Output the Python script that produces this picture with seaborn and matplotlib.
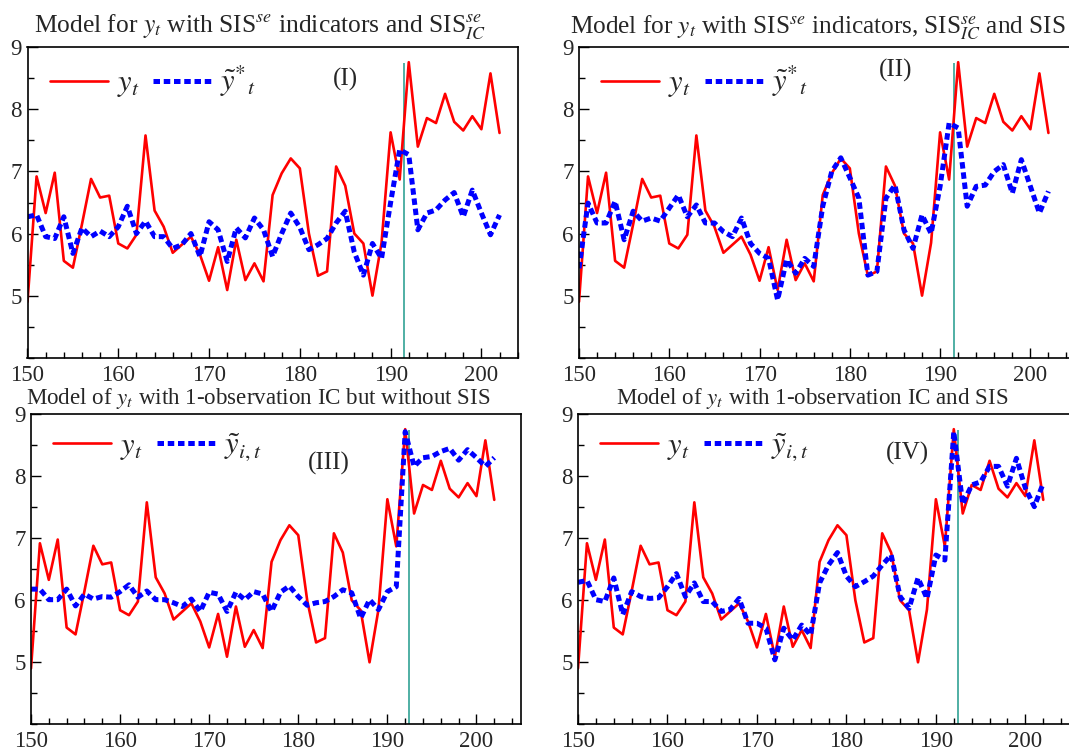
import numpy as np
import pandas as pd
import matplotlib
matplotlib.use("Agg")
import matplotlib.pyplot as plt
from matplotlib.ticker import MultipleLocator
import seaborn as sns

# ---------------- data ----------------
years = list(range(150, 203))

y_t = [4.90, 6.92, 6.33, 6.98, 5.56, 5.45, 6.15, 6.88, 6.58, 6.61,
       5.84, 5.76, 5.98, 7.58, 6.37, 6.11, 5.69, 5.82, 5.95, 5.66,
       5.24, 5.78, 5.09, 5.90, 5.25, 5.52, 5.23, 6.62, 6.97, 7.21,
       7.05, 6.00, 5.32, 5.39, 7.08, 6.77, 6.00, 5.84, 5.00, 5.85,
       7.63, 6.87, 8.76, 7.40, 7.86, 7.78, 8.25, 7.80, 7.66, 7.89,
       7.68, 8.58, 7.62]

fit_I = [6.27, 6.30, 5.95, 5.92, 6.27, 5.68, 6.09, 5.95, 6.04, 5.95,
         6.11, 6.44, 6.00, 6.20, 5.95, 5.95, 5.76, 5.82, 6.00, 5.63,
         6.19, 6.06, 5.55, 6.09, 5.93, 6.25, 6.06, 5.63, 6.00, 6.33,
         6.10, 5.74, 5.82, 5.92, 6.17, 6.36, 5.70, 5.33, 5.84, 5.60,
         6.50, 7.35, 7.27, 6.06, 6.33, 6.38, 6.54, 6.66, 6.27, 6.70,
         6.33, 5.98, 6.30]

fit_II = [5.44, 6.49, 6.17, 6.17, 6.52, 5.90, 6.36, 6.20, 6.25, 6.20,
          6.41, 6.62, 6.27, 6.46, 6.17, 6.17, 6.03, 5.95, 6.25, 5.84,
          5.68, 5.60, 4.93, 5.58, 5.36, 5.60, 5.47, 6.44, 7.00, 7.22,
          6.90, 6.57, 5.33, 5.39, 6.57, 6.78, 6.06, 5.76, 6.30, 6.00,
          6.76, 7.78, 7.70, 6.44, 6.76, 6.78, 7.00, 7.11, 6.65, 7.19,
          6.76, 6.33, 6.68]

fit_III = [6.18, 6.18, 6.01, 6.01, 6.18, 5.91, 6.10, 6.02, 6.06, 6.05,
           6.14, 6.25, 6.05, 6.15, 6.01, 6.01, 5.96, 5.90, 6.02, 5.82,
           6.13, 6.10, 5.82, 6.13, 6.01, 6.14, 6.10, 5.82, 6.13, 6.23,
           6.06, 5.92, 5.96, 5.98, 6.06, 6.17, 6.12, 5.71, 6.01, 5.85,
           6.14, 6.22, 8.72, 8.16, 8.30, 8.32, 8.40, 8.45, 8.26, 8.43,
           8.30, 8.16, 8.30]

fit_IV = [6.29, 6.32, 6.01, 5.98, 6.36, 5.77, 6.14, 6.06, 6.03, 6.04,
          6.22, 6.43, 6.06, 6.28, 5.98, 5.98, 5.82, 5.85, 6.03, 5.63,
          5.63, 5.55, 5.04, 5.55, 5.36, 5.60, 5.44, 6.28, 6.57, 6.77,
          6.39, 6.22, 6.30, 6.39, 6.57, 6.73, 6.06, 5.87, 6.36, 6.03,
          6.73, 6.65, 8.72, 7.55, 7.86, 7.91, 8.16, 8.16, 7.84, 8.29,
          7.81, 7.51, 7.89]

titles = [
    r"Model for $y_t$ with SIS$^{se}$ indicators and SIS$^{se}_{IC}$",
    r"Model for $y_t$ with SIS$^{se}$ indicators, SIS$^{se}_{IC}$ and SIS",
    r"Model of $y_t$ with 1-observation IC but without SIS",
    r"Model of $y_t$ with 1-observation IC and SIS",
]
panel_tags = ["(I)", "(II)", "(III)", "(IV)"]
fit_labels = [r"$\tilde{y}^{*}{}_{t}$", r"$\tilde{y}^{*}{}_{t}$",
              r"$\tilde{y}_{i,t}$", r"$\tilde{y}_{i,t}$"]
break_points = [191.5, 191.5, 192.45, 192.45]
fits = [fit_I, fit_II, fit_III, fit_IV]

# ---------------- style ----------------
sns.set_style("white")
plt.rcParams["font.family"] = ["Liberation Serif", "DejaVu Serif"]
plt.rcParams["mathtext.fontset"] = "stix"

W, H = 1069, 752
fig = plt.figure(figsize=(W / 100, H / 100), dpi=100)

# axes boxes in pixels: left, right, top, bottom ; xlim right
boxes = [
    (27.5, 517.7, 47.3, 357.7, 204.0),
    (579.0, 1071.0, 47.3, 357.7, 204.5),
    (31.0, 521.0, 414.3, 724.3, 205.0),
    (578.0, 1071.0, 414.3, 724.3, 205.1),
]
title_pos = [(0.474, 1.046, 18.4), (0.486, 1.046, 18.2),
             (0.464, 1.034, 16.6), (0.476, 1.034, 16.6)]
tag_pos = [(0.648, 0.895), (0.643, 0.927), (0.608, 0.843), (0.669, 0.875)]

for i in range(4):
    l, r, t, b, xr = boxes[i]
    ax = fig.add_axes([l / W, (H - b) / H, (r - l) / W, (b - t) / H])
    df = pd.DataFrame({"t": years, "y": y_t, "fit": fits[i]})
    sns.lineplot(data=df, x="t", y="y", ax=ax, color="#ff0000", lw=1.9,
                 label=r"$y_{t}$")
    sns.lineplot(data=df, x="t", y="fit", ax=ax, color="#0000ff", lw=3.6,
                 linestyle=(0, (1.3, 0.75)), label=fit_labels[i])
    ax.vlines(break_points[i], 4, 8.75, color="#1f9a8c", lw=1.1, zorder=1)

    ax.set_xlim(150, xr)
    ax.set_ylim(4, 9)
    ax.xaxis.set_major_locator(MultipleLocator(10))
    ax.xaxis.set_minor_locator(MultipleLocator(2))
    ax.set_yticks([5, 6, 7, 8, 9])
    ax.yaxis.set_minor_locator(MultipleLocator(0.5))
    ax.tick_params(axis="both", which="major", direction="in", length=7,
                   width=1.0, labelsize=16.5, color="black", pad=5,
                   bottom=True, left=True, top=False, right=False)
    ax.tick_params(axis="both", which="minor", direction="in", length=4,
                   width=1.0, color="black",
                   bottom=True, left=True, top=False, right=False)
    ax.tick_params(axis="y", which="major", pad=4)
    ax.set_xlabel("")
    ax.set_ylabel("")
    for s in ax.spines.values():
        s.set_color("black")
        s.set_linewidth(1.2)

    leg = ax.legend(loc="upper left", bbox_to_anchor=(0.02, 0.985), ncol=2,
                    frameon=False, fontsize=22, handlelength=1.9,
                    handletextpad=0.3, columnspacing=0.45, borderaxespad=0.0)

    tx, ty, fs = title_pos[i]
    ax.text(tx, ty, titles[i], transform=ax.transAxes, ha="center",
            va="baseline", fontsize=fs)
    px, py = tag_pos[i]
    ax.text(px, py, panel_tags[i], transform=ax.transAxes, ha="center",
            va="center", fontsize=18)

fig.savefig("out.png", dpi=100)
